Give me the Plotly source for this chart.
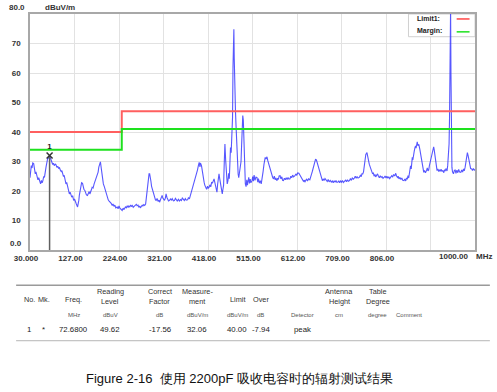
import plotly.graph_objects as go

# ---------------- data ----------------
FREQ_MHZ = [
    30, 31, 32.8, 34.5, 36, 38, 39.5, 41.5, 43, 45,
    47.3, 49, 51, 53.1, 55, 56.5, 58.1, 60, 61.5, 63.1,
    65, 67, 68.9, 70.5, 72.68, 74.5, 76, 77.5, 79.5, 81,
    83, 85, 86.8, 88.5, 90.5, 92.5, 94.2, 96, 98, 99.5,
    101.3, 103, 104.5, 106.5, 108.4, 110, 112, 114, 115.8, 117.5,
    119.5, 121, 123, 125.1, 127, 129, 131, 133.7, 135, 136.5,
    137.5, 139.5, 141, 142.5, 144.5, 146, 147.5, 149.5, 151, 153,
    155.3, 157, 159, 160.5, 162.4, 164, 165.5, 167.5, 169.8, 171.5,
    173.5, 175, 176.9, 178.5, 180, 181.9, 183.5, 185.5, 187.5, 189.9,
    192, 194, 196, 198.5, 200.5, 202.5, 205, 207, 209.3, 211,
    213, 215, 217, 220.1, 222, 224, 226, 228.5, 230.9, 233,
    235, 238, 240, 242, 244, 245.5, 247.5, 249.5, 251, 253,
    255, 257.5, 260, 261.8, 263.5, 265.5, 267, 269, 270.5, 272.6,
    274.5, 276, 278, 280, 282, 283.5, 284.9, 286.5, 288, 289.5,
    290.8, 292, 293.5, 295, 296.4, 298, 300, 302, 303.5, 305,
    307, 309, 311, 312.4, 314, 316, 318, 319.5, 321, 323.2,
    325, 326.6, 328.5, 330.5, 332, 334, 336, 338, 340, 342.5,
    344.8, 347, 349, 351, 353.5, 355.6, 358, 360, 362, 364.5,
    366.4, 368.5, 370.5, 373.5, 375.5, 377.5, 380.6, 382.5, 384.5, 386.5,
    388, 390, 391.5, 393, 395, 397, 398.8, 400.5, 401.5, 403.8,
    405.5, 407.4, 409.5, 411, 413, 415, 417, 418.5, 420.4, 422,
    424, 426, 427.5, 429, 431.2, 432.5, 434, 436.2, 437.5, 439,
    440.5, 442, 443.5, 445.4, 447, 449.1, 450.5, 452, 453.5, 454.9,
    456.5, 458, 459.9, 461.5, 463, 464.5, 466, 467, 468.5, 470.7,
    471.5, 472.5, 473.5, 474.4, 475.2, 476.2, 477.9, 479, 480, 481.5,
    482.5, 483.7, 485, 486.5, 487.5, 488.6, 490, 491, 492.5, 493.8,
    495, 496, 497.3, 498.5, 499.4, 501, 502.5, 504, 505.5, 506.8,
    508.5, 510, 511.5, 513.9, 515.5, 517, 518.5, 520.5, 522.5, 524.7,
    526.5, 528, 530, 532, 534, 536, 538, 540, 542.7, 544.5,
    546.5, 548.5, 550.5, 552.5, 555.6, 557.5, 559, 560.8, 562.5, 564.5,
    566, 568, 570, 571.5, 573, 575.1, 577, 579, 580.5, 582.4,
    584.5, 586.5, 588.5, 590.5, 592.5, 594.5, 596.7, 598.5, 600.5, 602.5,
    604.5, 607.5, 609.5, 611.5, 613.5, 616.1, 618, 620, 622, 624,
    626, 628, 629.1, 631, 633, 635, 637, 639.9, 642, 644,
    645.5, 647.2, 649, 651, 652.5, 654.4, 656, 658, 660.2, 662,
    664, 665.5, 667.3, 669, 671, 673, 676, 678, 680, 682,
    684.5, 686.8, 689, 691, 693, 695, 697, 699, 701.2, 703,
    705, 707, 709, 711, 713, 715.5, 718, 720, 722, 724,
    726.3, 728.5, 730.5, 732.5, 735, 737.1, 739, 741, 743, 745,
    747.9, 750, 752, 753.5, 755.3, 757, 758.5, 760.2, 762, 764.5,
    766, 767.5, 769.5, 771.5, 773.5, 776.8, 778.5, 780, 782, 783.5,
    785.5, 787.6, 789.5, 791.5, 793.5, 795.5, 797.5, 799.5, 801.9, 804,
    806, 808, 810, 812, 814, 816.4, 818.5, 820.5, 822.5, 825,
    827.2, 829, 831, 832.5, 834.3, 836.5, 838.5, 840.5, 842.5, 845.1,
    847, 849, 850.5, 852.5, 854, 855.5, 857, 858.1, 859.5, 861,
    862, 863.3, 864.5, 866, 867.5, 869, 870.4, 871.5, 872.5, 874.1,
    875.5, 877.5, 879.7, 881.5, 883, 884.9, 886.5, 888.3, 890, 892,
    894.2, 896, 897.5, 899.1, 900.5, 902, 903, 904.3, 905.5, 907,
    908.5, 909.9, 911, 912, 913.6, 915, 916.5, 917.3, 919, 921,
    922.5, 924.4, 926, 928, 930, 932, 933.5, 935.2, 937, 939,
    940.5, 942.3, 943.5, 944.5, 945.3, 946, 946.8, 947.6, 948.5, 949.7,
    951, 953.1, 955, 956.7, 958.5, 960.5, 962.5, 964.5, 966.5, 969.1,
    971, 973, 975, 976.5, 978.4, 980, 981.5, 983.4, 985, 986.5,
    987.7, 989, 990.5, 992.9, 994.5, 996.5, 998.5, 1000,
]

LEVEL_DBUV_M = [
    24.5, 27.0, 28.6, 27.8, 29.5, 29.3, 28.0, 25.8, 26.5, 24.8,
    23.8, 24.5, 22.9, 22.4, 23.6, 22.8, 23.5, 25.0, 24.6, 26.9,
    28.2, 29.8, 31.4, 31.0, 32.06, 31.2, 30.3, 29.7, 29.0, 29.4,
    28.6, 29.1, 28.9, 28.0, 28.4, 27.6, 28.0, 27.1, 26.6, 26.9,
    25.8, 24.9, 25.3, 23.6, 22.4, 22.9, 21.5, 20.3, 19.0, 19.6,
    18.2, 17.9, 18.4, 16.8, 17.3, 16.1, 15.6, 14.6, 15.4, 16.9,
    18.5, 19.8, 21.4, 22.8, 22.6, 21.2, 20.6, 20.2, 19.1, 18.7,
    18.5, 19.2, 19.8, 19.0, 19.6, 20.5, 21.3, 21.0, 22.4, 23.1,
    23.9, 24.5, 25.2, 26.4, 28.1, 29.7, 29.9, 27.5, 25.0, 22.4,
    21.5, 20.3, 19.1, 17.4, 17.0, 16.6, 16.2, 15.8, 15.1, 15.6,
    14.8, 15.2, 14.3, 14.6, 14.0, 14.9, 14.2, 13.8, 13.4, 14.2,
    13.7, 14.6, 14.3, 15.0, 14.4, 14.9, 14.6, 15.3, 14.7, 15.1,
    14.5, 14.9, 15.5, 15.5, 15.0, 15.2, 14.5, 14.9, 14.3, 14.6,
    15.2, 14.8, 15.4, 15.1, 15.6, 17.6, 20.2, 22.5, 24.3, 25.8,
    25.8, 25.0, 23.4, 21.6, 20.7, 19.5, 18.8, 17.6, 17.0, 16.8,
    17.5, 16.5, 16.9, 16.2, 16.8, 17.4, 18.5, 17.6, 17.0, 16.8,
    17.6, 19.0, 17.8, 17.2, 16.6, 16.8, 17.3, 16.9, 17.4, 16.7,
    16.8, 17.5, 16.9, 16.6, 17.2, 16.6, 17.1, 16.8, 17.6, 16.9,
    16.8, 17.4, 16.9, 17.0, 17.8, 17.3, 19.0, 20.1, 21.0, 21.8,
    22.4, 23.9, 24.7, 25.8, 27.1, 28.6, 29.7, 28.2, 29.5, 28.6,
    26.5, 24.6, 23.0, 22.0, 21.3, 20.6, 21.6, 20.9, 21.3, 22.1,
    21.4, 23.0, 22.6, 23.6, 24.1, 23.2, 22.0, 21.3, 19.6, 22.3,
    24.5, 25.8, 24.2, 22.4, 21.2, 19.0, 20.5, 22.0, 30.0, 35.9,
    30.5, 25.8, 22.4, 23.5, 26.0, 24.2, 30.0, 34.7, 33.0, 39.0,
    45.0, 62.0, 68.3, 74.8, 65.0, 52.0, 47.0, 42.5, 38.0, 33.0,
    28.5, 25.8, 24.5, 26.0, 27.8, 28.0, 30.0, 34.5, 41.0, 45.6,
    44.0, 38.0, 30.0, 25.2, 22.4, 21.5, 23.8, 22.0, 24.3, 24.6,
    22.6, 24.0, 22.8, 23.5, 24.9, 23.3, 25.4, 23.6, 24.7, 24.6,
    23.0, 24.2, 22.7, 23.5, 22.4, 24.0, 26.5, 29.0, 31.4, 30.8,
    31.6, 30.2, 29.0, 28.1, 26.9, 25.5, 24.6, 24.1, 25.0, 23.8,
    24.4, 23.5, 24.3, 23.9, 25.1, 25.2, 24.1, 24.8, 23.6, 23.5,
    24.3, 23.8, 24.5, 23.9, 24.6, 24.0, 24.1, 25.0, 24.5, 25.4,
    24.8, 25.2, 25.8, 25.3, 26.1, 26.0, 25.5, 24.9, 24.6, 24.0,
    23.3, 23.7, 23.0, 23.6, 24.0, 23.4, 24.1, 23.8, 24.6, 25.9,
    26.7, 27.5, 28.6, 29.4, 30.8, 30.5, 29.6, 28.4, 26.9, 25.8,
    24.6, 24.0, 23.5, 24.1, 23.6, 24.2, 23.8, 23.2, 23.9, 23.1,
    23.6, 23.0, 23.4, 22.8, 23.5, 23.0, 23.6, 22.9, 23.0, 23.5,
    22.8, 23.4, 23.0, 23.6, 22.9, 23.2, 23.7, 23.1, 23.8, 23.3,
    23.5, 24.2, 23.6, 24.4, 24.0, 24.4, 25.0, 24.3, 24.9, 24.4,
    24.6, 25.3, 24.9, 25.8, 25.8, 26.5, 28.8, 31.4, 32.4, 33.0,
    31.5, 30.2, 29.1, 28.2, 27.0, 25.8, 26.2, 25.0, 25.6, 24.8,
    25.3, 25.8, 25.0, 24.5, 25.2, 24.6, 24.9, 24.3, 24.6, 25.1,
    24.4, 25.0, 24.3, 24.8, 24.2, 24.6, 25.2, 24.7, 25.6, 25.1,
    26.0, 25.1, 24.6, 25.0, 24.1, 24.6, 23.9, 24.4, 23.6, 23.5,
    24.1, 23.4, 24.3, 24.1, 25.2, 24.4, 26.0, 26.9, 28.5, 27.5,
    29.6, 31.4, 30.5, 32.8, 33.4, 34.6, 35.3, 34.5, 36.0, 36.7,
    35.4, 35.8, 34.2, 32.5, 30.6, 29.1, 27.8, 26.3, 27.0, 26.2,
    26.9, 27.8, 26.8, 27.1, 28.5, 29.6, 30.8, 31.4, 32.6, 33.8,
    34.6, 35.0, 34.0, 32.5, 31.4, 28.8, 27.3, 26.9, 27.5, 26.6,
    27.2, 26.7, 27.4, 26.6, 27.0, 26.2, 27.1, 26.9, 27.6, 26.8,
    28.6, 32.5, 36.0, 45.0, 68.0, 82.0, 82.0, 60.0, 38.0, 28.0,
    26.5, 25.8, 27.0, 27.1, 26.0, 27.1, 26.2, 27.3, 26.4, 26.3,
    27.1, 26.4, 27.5, 26.8, 28.0, 29.4, 31.0, 33.0, 32.0, 30.8,
    30.2, 28.8, 27.6, 27.5, 26.9, 27.6, 27.1, 27.3,
]

LIMIT_FREQ = [30, 230, 230, 1000]
LIMIT_LEVEL = [40, 40, 47, 47]
MARGIN_LEVEL = [34, 34, 41, 41]

MARKER_FREQ = [72.68]
MARKER_LEVEL = [32.06]
MARKER_LABEL = ["1"]

X_TICKS = [30, 127, 224, 321, 418, 515, 612, 709, 806, 903, 1000]
X_TICK_TEXT = ["30.000", "127.00", "224.00", "321.00", "418.00", "515.00",
               "612.00", "709.00", "806.00", "", ""]
Y_TICKS = [10, 20, 30, 40, 50, 60, 70]
Y_TICK_TEXT = ["10", "20", "30", "40", "50", "60", "70"]

TABLE_HEAD_1 = ["", "", "", "Reading", "Correct", "Measure-", "", "", "", "Antenna", "Table", ""]
TABLE_HEAD_2 = ["No.", "Mk.", "Freq.", "Level", "Factor", "ment", "Limit", "Over", "", "Height", "Degree", ""]
TABLE_UNITS = ["", "", "MHz", "dBuV", "dB", "dBuV/m", "dBuV/m", "dB", "Detector", "cm", "degree", "Comment"]
TABLE_ROW = ["1", "*", "72.6800", "49.62", "-17.56", "32.06", "40.00", "-7.94", "peak", "", "", ""]

CAPTION = "Figure 2-16  使用 2200pF 吸收电容时的辐射测试结果"

# ---------------- layout helpers ----------------
W, H = 497, 392
L, R, T, B = 26, 22, 12, 142
PW, PH = W - L - R, H - T - B


def px(x):
    return (x - L) / PW


def py(y):
    return (H - B - y) / PH


FONT = "Liberation Sans, Arial, sans-serif"

fig = go.Figure()

fig.add_trace(go.Scatter(
    x=FREQ_MHZ, y=LEVEL_DBUV_M, mode="lines",
    line=dict(color="rgba(45,45,255,0.8)", width=1.1),
    hoverinfo="skip", showlegend=False))

fig.add_trace(go.Scatter(
    x=LIMIT_FREQ, y=LIMIT_LEVEL, mode="lines",
    line=dict(color="rgb(255,95,95)", width=2),
    hoverinfo="skip", showlegend=False))
fig.add_trace(go.Scatter(
    x=LIMIT_FREQ, y=MARGIN_LEVEL, mode="lines",
    line=dict(color="rgb(30,225,30)", width=2),
    hoverinfo="skip", showlegend=False))

# marker stem
fig.add_trace(go.Scatter(
    x=[MARKER_FREQ[0], MARKER_FREQ[0]], y=[0, MARKER_LEVEL[0]], mode="lines",
    line=dict(color="#606060", width=1.5), hoverinfo="skip", showlegend=False))
fig.add_trace(go.Scatter(
    x=MARKER_FREQ, y=MARKER_LEVEL, mode="markers+text",
    text=MARKER_LABEL, textposition="top center",
    textfont=dict(family=FONT, size=8, color="#222", weight="bold"),
    marker=dict(symbol="x-thin", size=6, line=dict(color="#333", width=1.5)),
    hoverinfo="skip", showlegend=False))

axis_common = dict(showline=True, linecolor="#a8a8a8", linewidth=1.5, mirror=True,
                   gridcolor="#e2e2e2", gridwidth=1, zeroline=False, ticks="",
                   tickfont=dict(family=FONT, size=8, color="#333", weight="bold"))

fig.update_xaxes(range=[30, 1000], tickmode="array", tickvals=X_TICKS,
                 ticktext=X_TICK_TEXT, ticklabelshift=-4, **axis_common)
fig.update_yaxes(range=[0, 80], tickmode="array", tickvals=Y_TICKS,
                 ticktext=Y_TICK_TEXT, ticklabelstandoff=6, **axis_common)

annotations = []


def ann(text, x, y, size=8, color="#333", xanchor="center", bold=False, yanchor="middle"):
    annotations.append(dict(
        text=text, x=x, y=y, xref="paper", yref="paper", showarrow=False,
        xanchor=xanchor, yanchor=yanchor,
        font=dict(family=FONT, size=size, color=color, weight="bold" if bold else "normal")))


# axis extras
ann("80.0", px(23), py(5), xanchor="right", bold=True)
ann("dBuV/m", px(39), py(5), xanchor="left", bold=True)
ann("0.0", px(20), py(243), xanchor="right", bold=True)
ann("1000.00", px(470), py(256.5), xanchor="right", bold=True)
ann("MHz", px(474), py(256.5), xanchor="left", bold=True)

# legend box
shapes = [
    dict(type="rect", xref="x", yref="y", x0=855, x1=1000, y0=72.3, y1=80,
         fillcolor="white", line=dict(color="#d0d0d0", width=1), layer="between"),
    dict(type="line", xref="paper", yref="paper", x0=px(456.5), x1=px(469.5),
         y0=py(17), y1=py(17), line=dict(color="rgb(255,70,70)", width=1.5)),
    dict(type="line", xref="paper", yref="paper", x0=px(456.5), x1=px(469.5),
         y0=py(30), y1=py(30), line=dict(color="rgb(30,225,30)", width=1.5)),
]
ann("Limit1:", px(414), py(17), size=7, xanchor="left", bold=True, color="#222")
ann("Margin:", px(414), py(29.5), size=7, xanchor="left", bold=True, color="#222")

# table
COL_X = [25, 40, 70, 107, 157, 195, 235, 259, 301, 338, 377, 408]
for i, cx in enumerate(COL_X):
    if TABLE_HEAD_1[i]:
        ann(TABLE_HEAD_1[i], px(cx), py(291.5), size=7.3, color="#333")
        ann(TABLE_HEAD_2[i], px(cx), py(302), size=7.3, color="#333")
    elif TABLE_HEAD_2[i]:
        ann(TABLE_HEAD_2[i], px(cx), py(300), size=7.3, color="#333")
    if TABLE_UNITS[i]:
        ann(TABLE_UNITS[i], px(cx), py(315.5), size=6, color="#555")
    if TABLE_ROW[i]:
        ann(TABLE_ROW[i], px(cx), py(330.5), size=7.8, color="#222")

shapes.append(dict(type="line", xref="paper", yref="paper", x0=px(12), x1=px(490),
                   y0=py(285.5), y1=py(285.5), line=dict(color="#9a9a9a", width=1.5)))
shapes.append(dict(type="line", xref="paper", yref="paper", x0=px(12), x1=px(490),
                   y0=py(341.5), y1=py(341.5), line=dict(color="#b5b5b5", width=1)))

ann(CAPTION, px(237), py(380), size=13, color="#111")

fig.update_layout(
    width=W, height=H,
    margin=dict(l=L, r=R, t=T, b=B),
    paper_bgcolor="white", plot_bgcolor="white",
    showlegend=False,
    annotations=annotations, shapes=shapes,
)

fig.write_html("out.html")
